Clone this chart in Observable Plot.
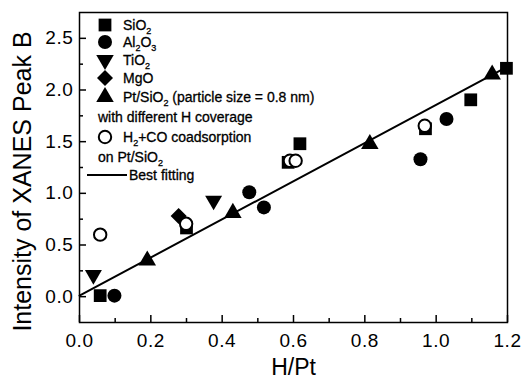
<!DOCTYPE html>
<html>
<head>
<meta charset="utf-8">
<script src="https://cdn.jsdelivr.net/npm/d3@7"></script>
<script src="https://cdn.jsdelivr.net/npm/@observablehq/plot@0.6"></script>
<style>
  html, body { margin: 0; padding: 0; background: #fff; }
</style>
</head>
<body>
<div id="chart"></div>
<script>
// ---- data ----
const sio2X = [0.058, 0.300, 0.585, 0.618, 0.970, 1.097, 1.197];
const sio2Y = [0.010, 0.665, 1.300, 1.480, 1.625, 1.905, 2.210];
const al2o3X = [0.098, 0.476, 0.517, 0.956, 1.029];
const al2o3Y = [0.010, 1.010, 0.864, 1.330, 1.720];
const tio2X = [0.039, 0.376];
const tio2Y = [0.210, 0.930];
const mgoX = [0.278];
const mgoY = [0.780];
const ptX = [0.190, 0.430, 0.814, 1.157];
const ptY = [0.350, 0.810, 1.477, 2.150];
const openX = [0.058, 0.299, 0.590, 0.606, 0.968];
const openY = [0.600, 0.705, 1.315, 1.315, 1.654];
const fitX = [0.0, 1.2];
const fitY = [0.010, 2.226];

const xMajor = [0, 0.2, 0.4, 0.6, 0.8, 1.0, 1.2];
const xMinor = [0.1, 0.3, 0.5, 0.7, 0.9, 1.1];
const yMajor = [0, 0.5, 1.0, 1.5, 2.0, 2.5];
const yMinor = [0.25, 0.75, 1.25, 1.75, 2.25];

const xTitle = "H/Pt";
const yTitle = "Intensity of XANES Peak B";

const zip = (xs, ys) => xs.map((x, i) => ({x, y: ys[i]}));

const W = 522, H = 386;
const mL = 79, mR = 15, mT = 12, mB = 64;
const innerW = W - mL - mR, innerH = H - mT - mB;

const svg = Plot.plot({
  width: W, height: H,
  marginLeft: mL, marginRight: mR, marginTop: mT, marginBottom: mB,
  style: {fontFamily: "'Liberation Sans', Arial, sans-serif", color: "black", background: "white"},
  x: {domain: [0, 1.2]},
  y: {domain: [-0.25, 2.75]},
  marks: [
    Plot.line(zip(fitX, fitY), {x: "x", y: "y", stroke: "black", strokeWidth: 2}),
    Plot.dot(zip(sio2X, sio2Y), {x: "x", y: "y", symbol: "square", r: 7.2, fill: "black"}),
    Plot.dot(zip(al2o3X, al2o3Y), {x: "x", y: "y", symbol: "circle", r: 7, fill: "black"}),
    Plot.dot(zip(tio2X, tio2Y), {x: "x", y: "y", symbol: "triangle", r: 6.3, rotate: 180, fill: "black"}),
    Plot.dot(zip(mgoX, mgoY), {x: "x", y: "y", symbol: "square", r: 6.4, rotate: 45, fill: "black"}),
    Plot.dot(zip(ptX, ptY), {x: "x", y: "y", symbol: "triangle", r: 6.5, fill: "black"}),
    Plot.dot(zip(openX, openY), {x: "x", y: "y", symbol: "circle", r: 6.2, fill: "white", stroke: "black", strokeWidth: 2}),
    Plot.frame({stroke: "black", strokeWidth: 1.5}),
    Plot.tickX(xMajor, {x: d => d, insetTop: innerH - 7, stroke: "black", strokeWidth: 1.5}),
    Plot.tickX(xMinor, {x: d => d, insetTop: innerH - 4, stroke: "black", strokeWidth: 1.5}),
    Plot.tickY(yMajor, {y: d => d, insetRight: innerW - 7, stroke: "black", strokeWidth: 1.5}),
    Plot.tickY(yMinor, {y: d => d, insetRight: innerW - 4, stroke: "black", strokeWidth: 1.5}),
    Plot.axisX({ticks: xMajor, tickSize: 0, tickPadding: 11, tickFormat: ".1f", fontSize: 19, label: null}),
    Plot.axisY({ticks: yMajor, tickSize: 0, tickPadding: 6, tickFormat: ".1f", fontSize: 19, label: null}),
    Plot.text([xTitle], {frameAnchor: "bottom", dy: 52, fontSize: 23, text: d => d, fill: "black", textAnchor: "middle"}),
    Plot.text([yTitle], {frameAnchor: "left", dx: -57, dy: 14, rotate: -90, fontSize: 25, text: d => d, fill: "black", textAnchor: "middle"})
  ]
});

// ---- legend ----
const legendRows = [
  {sym: "square", y: 25, parts: [["SiO"], ["2", "sub"]]},
  {sym: "circle", y: 42, parts: [["Al"], ["2", "sub"], ["O"], ["3", "sub"]]},
  {sym: "down", y: 60, parts: [["TiO"], ["2", "sub"]]},
  {sym: "diamond", y: 78, parts: [["MgO"]]},
  {sym: "triangle", y: 97, parts: [["Pt/SiO"], ["2", "sub"], [" (particle size = 0.8 nm)"]]},
  {sym: null, y: 117, indent: true, parts: [["with different H coverage"]]},
  {sym: "open", y: 137, parts: [["H"], ["2", "sub"], ["+CO coadsorption"]]},
  {sym: null, y: 157, indent: true, parts: [["on Pt/SiO"], ["2", "sub"]]},
  {sym: "line", y: 175, parts: [["Best fitting"]]}
];
const sel = d3.select(svg);
sel.selectAll("g[aria-label='x-axis tick label'] text, g[aria-label='y-axis tick label'] text").attr("letter-spacing", 0.6);
const g = sel.append("g").attr("font-size", 14).attr("fill", "black").attr("text-anchor", "start");
const symX = 105, textX = 123;
const area = r => Math.PI * r * r;
for (const row of legendRows) {
  if (row.sym === "square") {
    g.append("path").attr("d", d3.symbol(d3.symbolSquare, area(7.2))()).attr("transform", `translate(${symX},${row.y})`);
  } else if (row.sym === "circle") {
    g.append("circle").attr("cx", symX).attr("cy", row.y).attr("r", 7);
  } else if (row.sym === "down") {
    g.append("path").attr("d", d3.symbol(d3.symbolTriangle, area(6.5))()).attr("transform", `translate(${symX},${row.y}) rotate(180)`);
  } else if (row.sym === "diamond") {
    g.append("path").attr("d", d3.symbol(d3.symbolSquare, area(6.4))()).attr("transform", `translate(${symX},${row.y}) rotate(45)`);
  } else if (row.sym === "triangle") {
    g.append("path").attr("d", d3.symbol(d3.symbolTriangle, area(6.5))()).attr("transform", `translate(${symX},${row.y})`);
  } else if (row.sym === "open") {
    g.append("circle").attr("cx", symX).attr("cy", row.y).attr("r", 6.2).attr("fill", "white").attr("stroke", "black").attr("stroke-width", 2);
  } else if (row.sym === "line") {
    g.append("line").attr("x1", 87).attr("x2", 127).attr("y1", row.y).attr("y2", row.y).attr("stroke", "black").attr("stroke-width", 2);
  }
  const tx = row.sym === "line" ? 129 : (row.indent ? 98 : textX);
  const t = g.append("text").attr("x", tx).attr("y", row.y).attr("dy", "0.35em")
    .attr("stroke", "black").attr("stroke-width", 0.3);
  let shifted = false;
  for (const [s, kind] of row.parts) {
    if (kind === "sub") {
      t.append("tspan").attr("font-size", 9).attr("dy", shifted ? 0 : 4).text(s);
      shifted = true;
    } else {
      const ts = t.append("tspan").text(s);
      if (shifted) { ts.attr("dy", -4); shifted = false; }
    }
  }
}

document.getElementById("chart").appendChild(svg);
</script>
</body>
</html>
